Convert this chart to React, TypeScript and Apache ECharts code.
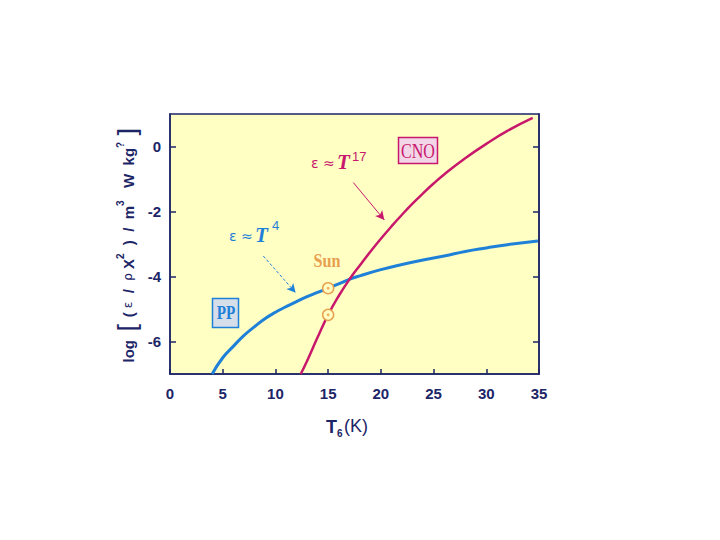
import React, { useEffect, useRef } from "react";
import * as echarts from "echarts";

const ppT = [4.0, 5, 6, 7, 8, 9, 10, 11, 12, 13, 14, 15, 16, 17, 18, 20, 22, 24, 26, 28, 30, 32, 34.9];
const ppLog = [-7.0, -6.5, -6.15, -5.82, -5.55, -5.3, -5.1, -4.93, -4.77, -4.62, -4.49, -4.36, -4.23, -4.09, -3.98, -3.79, -3.63, -3.49, -3.37, -3.23, -3.12, -3.02, -2.91];
const cnoT = [12.4, 13, 14, 15, 16, 17, 18, 19, 20, 21, 22, 23, 24, 25, 26, 28, 30, 32, 34.4];
const cnoLog = [-7.0, -6.6, -5.87, -5.18, -4.6, -4.1, -3.66, -3.24, -2.84, -2.46, -2.1, -1.76, -1.44, -1.14, -0.86, -0.36, 0.08, 0.48, 0.88];
const sunT = [15, 15];
const sunLog = [-4.36, -5.18];
const yTicks = [0, -2, -4, -6];
const xTicks = [0, 5, 10, 15, 20, 25, 30, 35];

const NAVY = "#1c2566";
const BLUE = "#1f80d8";
const RED = "#c8186c";
const ORANGE = "#e8a050";
const BG = "#ffffc4";
const SANS = "'Liberation Sans', Arial, sans-serif";
const SERIF = "'Liberation Serif', 'Times New Roman', serif";

export default function App() {
  const ref = useRef<HTMLDivElement>(null);
  useEffect(() => {
    if (!ref.current) return;
    const chart = echarts.init(ref.current, null, { renderer: "svg" });
    const zip = (a: number[], b: number[]) => a.map((v, i) => [v, b[i]]);
    const option: any = {
      animation: false,
      backgroundColor: "#ffffff",
      grid: {
        left: 170,
        right: 181,
        top: 114,
        height: 260,
        show: true,
        backgroundColor: BG,
        borderColor: NAVY,
        borderWidth: 1.5,
      },
      xAxis: {
        type: "value",
        min: 0,
        max: 35,
        interval: 5,
        axisLine: { show: true, onZero: false, lineStyle: { color: NAVY, width: 1.5 } },
        axisTick: { show: true, inside: true, length: 5, lineStyle: { color: NAVY, width: 1.5 } },
        axisLabel: {
          margin: 12,
          color: NAVY,
          fontSize: 15,
          fontWeight: "bold",
          fontFamily: SANS,
          customValues: xTicks,
        },
        splitLine: { show: false },
      },
      yAxis: [
        {
          type: "value",
          min: -7,
          max: 1,
          axisLine: { show: true, onZero: false, lineStyle: { color: NAVY, width: 1.5 } },
          axisTick: { show: true, inside: true, length: 6, lineStyle: { color: NAVY, width: 1.5 }, customValues: yTicks },
          axisLabel: {
            margin: 9,
            color: NAVY,
            fontSize: 15,
            fontWeight: "bold",
            fontFamily: SANS,
            customValues: yTicks,
          },
          splitLine: { show: false },
        },
        {
          type: "value",
          position: "right",
          min: -7,
          max: 1,
          axisLine: { show: true, onZero: false, lineStyle: { color: NAVY, width: 1.5 } },
          axisTick: { show: true, inside: true, length: 6, lineStyle: { color: NAVY, width: 1.5 }, customValues: yTicks },
          axisLabel: { show: false },
          splitLine: { show: false },
        },
      ],
      series: [
        {
          type: "line",
          data: zip(ppT, ppLog),
          smooth: true,
          showSymbol: false,
          lineStyle: { color: BLUE, width: 3 },
          silent: true,
          markLine: {
            silent: true,
            symbol: ["none", "arrow"],
            symbolSize: [7, 9],
            label: { show: false },
            lineStyle: { color: BLUE, width: 1, type: [3, 2] },
            data: [[{ coord: [8.85, -3.37] }, { coord: [11.92, -4.5] }]],
          },
        },
        {
          type: "line",
          data: zip(cnoT, cnoLog),
          smooth: true,
          showSymbol: false,
          lineStyle: { color: RED, width: 2.5 },
          silent: true,
          markLine: {
            silent: true,
            symbol: ["none", "arrow"],
            symbolSize: [7, 9],
            label: { show: false },
            lineStyle: { color: RED, width: 1, type: "solid" },
            data: [[{ coord: [17.39, -1.11] }, { coord: [20.33, -2.26] }]],
          },
        },
        {
          type: "scatter",
          data: zip(sunT, sunLog),
          symbol: "circle",
          symbolSize: 11,
          itemStyle: { color: BG, borderColor: ORANGE, borderWidth: 1.5, opacity: 1 },
          silent: true,
          z: 5,
        },
        {
          type: "scatter",
          data: zip(sunT, sunLog),
          symbol: "circle",
          symbolSize: 3,
          itemStyle: { color: ORANGE },
          silent: true,
          z: 6,
        },
      ],
      graphic: [
        // y-axis title
        {
          type: "text",
          x: 128,
          y: 245,
          rotation: Math.PI / 2,
          style: {
            text: "{t|log  }{b|[}{t| ( }{s|ε}{t|  /  }{s|ρ}{t| X}{sup|2}{t|  )  /  m}{sup|3}{t|   W  kg}{sup|?}{t| }{b|]}",
            align: "center",
            verticalAlign: "middle",
            rich: {
              t: { fontSize: 15, fontWeight: "bold", fill: NAVY, fontFamily: SANS },
              s: { fontSize: 12, fill: NAVY, fontFamily: "'DejaVu Sans', sans-serif" },
              b: { fontSize: 26, fill: NAVY, fontFamily: "'DejaVu Sans', sans-serif" },
              sup: { fontSize: 10, fontWeight: "bold", fill: NAVY, verticalAlign: "top", fontFamily: SANS },
            },
          },
        },
        // x-axis title
        {
          type: "text",
          x: 337,
          y: 427,
          style: { text: "T", fontSize: 18, fontWeight: "bold", fill: NAVY, fontFamily: SANS, align: "right", verticalAlign: "middle" },
        },
        {
          type: "text",
          x: 337,
          y: 433,
          style: { text: "6", fontSize: 10, fontWeight: "bold", fill: NAVY, fontFamily: SANS, align: "left", verticalAlign: "middle" },
        },
        {
          type: "text",
          x: 344,
          y: 426,
          style: { text: "(K)", fontSize: 18, fill: NAVY, fontFamily: SANS, align: "left", verticalAlign: "middle" },
        },
        // CNO annotation
        {
          type: "text",
          x: 311,
          y: 163,
          style: { text: "ε ≈", fontSize: 14, fill: RED, fontFamily: "'DejaVu Sans', sans-serif", verticalAlign: "middle" },
        },
        {
          type: "text",
          x: 337,
          y: 162,
          style: { text: "T", fontSize: 21, fontStyle: "italic", fontWeight: "bold", fill: RED, fontFamily: SERIF, verticalAlign: "middle" },
        },
        {
          type: "text",
          x: 352,
          y: 156,
          style: { text: "17", fontSize: 13, fill: RED, fontFamily: SANS, verticalAlign: "middle" },
        },
        {
          type: "rect",
          shape: { x: 398.5, y: 137.5, width: 39, height: 26 },
          style: { fill: "#f2d6e8", stroke: RED, lineWidth: 1.5 },
        },
        {
          type: "text",
          x: 418,
          y: 151,
          scaleX: 0.8,
          style: { text: "CNO", fontSize: 20, fill: RED, fontFamily: SERIF, align: "center", verticalAlign: "middle" },
        },
        // PP annotation
        {
          type: "text",
          x: 229,
          y: 236,
          style: { text: "ε ≈", fontSize: 14, fill: BLUE, fontFamily: "'DejaVu Sans', sans-serif", verticalAlign: "middle" },
        },
        {
          type: "text",
          x: 255,
          y: 235,
          style: { text: "T", fontSize: 21, fontStyle: "italic", fontWeight: "bold", fill: BLUE, fontFamily: SERIF, verticalAlign: "middle" },
        },
        {
          type: "text",
          x: 272,
          y: 225,
          style: { text: "4", fontSize: 13, fill: BLUE, fontFamily: SANS, verticalAlign: "middle" },
        },
        {
          type: "rect",
          shape: { x: 212.5, y: 298.5, width: 26, height: 29 },
          style: { fill: "#d6deea", stroke: BLUE, lineWidth: 1.5 },
        },
        {
          type: "text",
          x: 226,
          y: 313,
          scaleX: 0.8,
          style: { text: "PP", fontSize: 19, fontWeight: "bold", fill: BLUE, fontFamily: SERIF, align: "center", verticalAlign: "middle" },
        },
        // Sun
        {
          type: "text",
          x: 327,
          y: 261,
          scaleX: 0.85,
          style: { text: "Sun", fontSize: 19, fontWeight: "bold", fill: ORANGE, fontFamily: SERIF, align: "center", verticalAlign: "middle" },
        },
      ],
    };
    chart.setOption(option);
    return () => chart.dispose();
  }, []);
  return (
    <div
      ref={ref}
      style={{ position: "fixed", left: 0, top: 0, width: 720, height: 540, background: "#ffffff" }}
    />
  );
}
